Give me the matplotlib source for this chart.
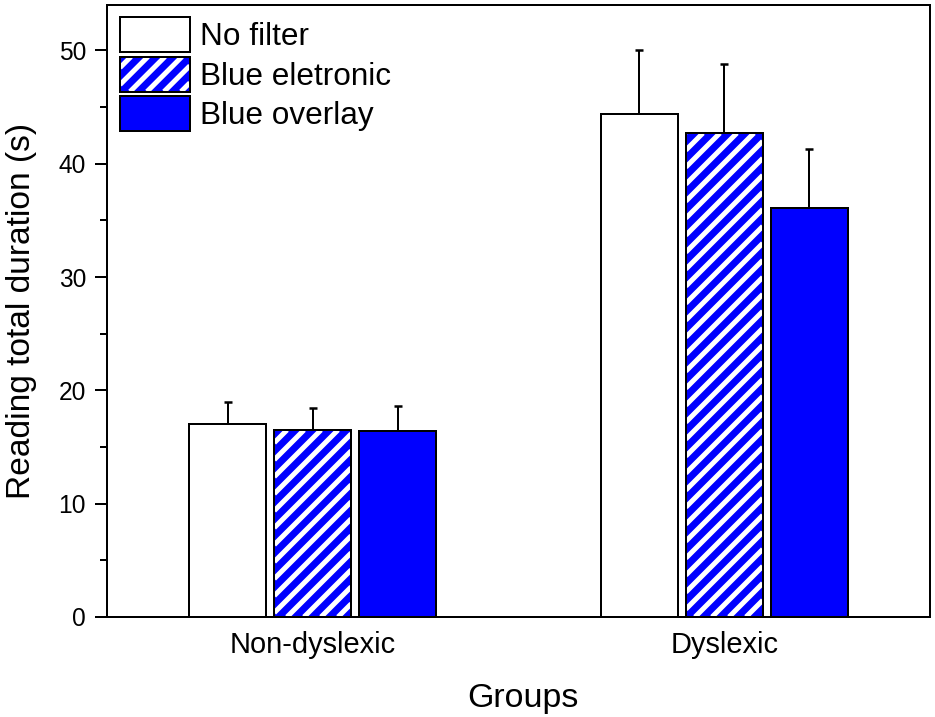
import matplotlib
matplotlib.use("Agg")
import matplotlib.pyplot as plt
import numpy as np
from matplotlib.patches import Patch, Rectangle
from matplotlib.collections import LineCollection
from matplotlib.transforms import IdentityTransform

# data
groups = ['Non-dyslexic', 'Dyslexic']
series = ['No filter', 'Blue eletronic', 'Blue overlay']
no_filter = [17.0, 44.4]
no_filter_err = [2.0, 5.6]
blue_elec = [16.5, 42.7]
blue_elec_err = [1.9, 6.1]
blue_over = [16.45, 36.1]
blue_over_err = [2.15, 5.2]

# drawn at 72 dpi so 1 pt == 1 px
plt.rcParams['font.family'] = ['Liberation Sans', 'DejaVu Sans']
plt.rcParams['axes.linewidth'] = 2

blue = '#0000ff'
STRIPE_GAP = 17.0   # px between white stripes, measured along x
STRIPE_W = 5.0

def stripe_segments(x0, y0, x1, y1, gap=STRIPE_GAP):
    # "/" lines (y = x + c) cut to the box
    segs = []
    c = (y0 - x1) - ((y0 - x1) % gap)
    while c < (y1 - x0):
        xa, xb = max(x0, y0 - c), min(x1, y1 - c)
        if xa < xb:
            segs.append([(xa, xa + c), (xb, xb + c)])
        c += gap
    return segs

class StripeHandler:
    def legend_artist(self, legend, orig_handle, fontsize, handlebox):
        x0, y0 = -handlebox.xdescent, -handlebox.ydescent
        w, h = handlebox.width, handlebox.height
        bg = Rectangle((x0, y0), w, h, facecolor=blue, edgecolor='none')
        handlebox.add_artist(bg)
        lc = LineCollection(stripe_segments(x0, y0, x0 + w, y0 + h),
                            colors='white', linewidths=STRIPE_W)
        handlebox.add_artist(lc)
        lc.set_clip_path(bg)
        edge = Rectangle((x0, y0), w, h, fill=False, edgecolor='black', linewidth=2)
        handlebox.add_artist(edge)
        return edge

fig = plt.figure(figsize=(935 / 72, 717 / 72), dpi=72)
ax = fig.add_axes([0.1144, 0.1395, 0.8803, 0.8535])

x = np.arange(1, len(groups) + 1)
w = 0.187
step = 0.2066

def up_err(xs, vals, errs):
    # only the upper half of the error bar, like the original
    tops = np.array(vals) + np.array(errs)
    ax.vlines(xs, vals, tops, color='black', lw=2, zorder=4)
    ax.plot(xs, tops, ls='none', marker='_', ms=8, mew=2.5, color='black', zorder=4)

ax.set_xlim(0.5, 2.5)
ax.set_ylim(0, 54)

# no filter
ax.bar(x - step, no_filter, w, color='white', edgecolor='black', linewidth=2, zorder=2)
up_err(x - step, no_filter, no_filter_err)
# blue eletronic: blue fill, white stripes, black outline on top
elec = ax.bar(x, blue_elec, w, color=blue, linewidth=0, zorder=2)
for b in elec:
    bb = b.get_window_extent()
    lc = LineCollection(stripe_segments(bb.x0, bb.y0, bb.x1, bb.y1), colors='white',
                        linewidths=STRIPE_W, transform=IdentityTransform(), zorder=2.2)
    ax.add_collection(lc, autolim=False)
    lc.set_clip_path(b)   # after add_collection, which would reset it
ax.bar(x, blue_elec, w, fill=False, edgecolor='black', linewidth=2, zorder=3)
up_err(x, blue_elec, blue_elec_err)
# blue overlay
ax.bar(x + step, blue_over, w, color=blue, edgecolor='black', linewidth=2, zorder=2)
up_err(x + step, blue_over, blue_over_err)

ax.set_xticks(x)
ax.set_xticklabels(groups)
ax.set_yticks(np.arange(0, 51, 10))
ax.set_yticks(np.arange(5, 51, 10), minor=True)
ax.tick_params(axis='x', length=0, pad=14, labelsize=29)
ax.tick_params(axis='y', which='major', length=12, width=2, pad=9, labelsize=24.5)
ax.tick_params(axis='y', which='minor', length=7, width=2)

ax.set_xlabel('Groups', fontsize=34, labelpad=24)
ax.xaxis.label.set_x(0.505)
ax.set_ylabel('Reading total duration (s)', fontsize=33.5)
ax.yaxis.set_label_coords(-0.085, 0.5)

h1 = Patch(facecolor='white', edgecolor='black', linewidth=2)
h2 = Patch(facecolor=blue)
h3 = Patch(facecolor=blue, edgecolor='black', linewidth=2)
ax.legend([h1, h2, h3], series, handler_map={h2: StripeHandler()},
          loc='upper left', bbox_to_anchor=(0.0158, 0.98), frameon=False,
          borderaxespad=0, borderpad=0, fontsize=31.5, handlelength=2.22,
          handleheight=1.33, labelspacing=0.14, handletextpad=0.32)

fig.savefig('out.png', dpi=72)
